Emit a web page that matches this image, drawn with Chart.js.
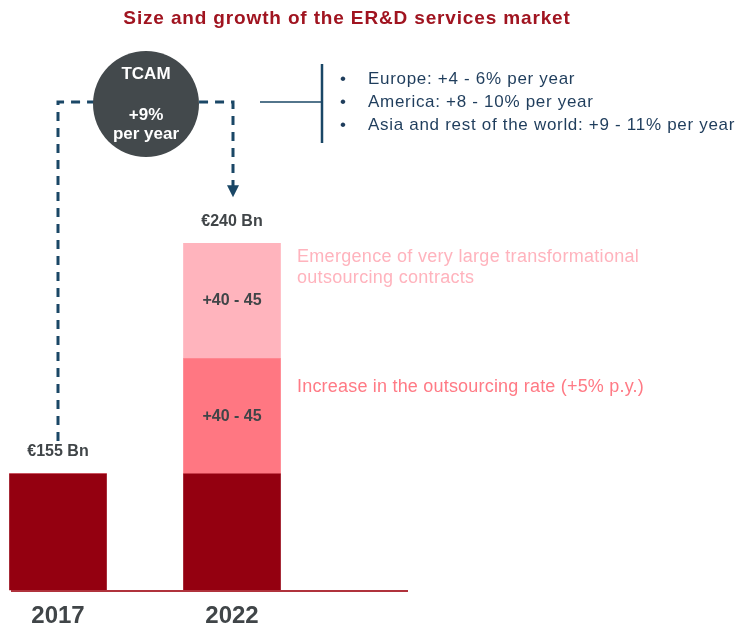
<!DOCTYPE html>
<html>
<head>
<meta charset="utf-8">
<script src="https://cdn.jsdelivr.net/npm/chart.js@4/dist/chart.umd.min.js"></script>
<style>
  html, body { margin: 0; padding: 0; background: #fff; }
  #wrap { width: 736px; height: 627px; position: relative; }
</style>
</head>
<body>
<div id="wrap"><canvas id="erd"></canvas></div>
<script>
// datos (alturas tal como están dibujadas, el gráfico es esquemático)
const years = ['2017', '2022'];
const baseMarket = [155, 155];
const outsourcingRate = [0, 154];
const largeContracts = [0, 154];
const totalLabels = ['€155 Bn', '€240 Bn'];
const growthLabels = ['', '+40 - 45'];
const regionGrowth = [
  'Europe: +4 - 6% per year',
  'America: +8 - 10% per year',
  'Asia and rest of the world: +9 - 11% per year',
];
const TITLE = 'Size and growth of the ER&D services market';
const Y_MAX = 788;

const FONT = '"Liberation Sans", Arial, sans-serif';
const NAVY = '#1a4766';
const GRIS = '#404548';

function topOfStack(chart, idx) {
  let top = Infinity;
  chart.data.datasets.forEach((ds, i) => {
    if (!ds.data[idx]) return;
    const el = chart.getDatasetMeta(i).data[idx];
    top = Math.min(top, el.y);
  });
  return top;
}

const pluginDecoracion = {
  id: 'pluginDecoracion',
  afterDraw(chart) {
    const { ctx, scales } = chart;
    const x0 = scales.x.getPixelForValue(0);
    const x1 = scales.x.getPixelForValue(1);
    const yBase = scales.y.getPixelForValue(0);
    const top0 = topOfStack(chart, 0);
    const top1 = topOfStack(chart, 1);

    ctx.save();

    // título
    ctx.font = `bold 19px ${FONT}`;
    ctx.letterSpacing = '0.85px';
    ctx.fillStyle = '#a01420';
    ctx.textAlign = 'center';
    ctx.textBaseline = 'middle';
    ctx.fillText(TITLE, 347, 19);
    ctx.letterSpacing = '0px';

    // eje base
    ctx.strokeStyle = '#b0323c';
    ctx.lineWidth = 2;
    ctx.beginPath();
    ctx.moveTo(x0 - 47, yBase + 1);
    ctx.lineTo(x1 + 176, yBase + 1);
    ctx.stroke();

    // etiquetas de años
    ctx.font = `bold 24px ${FONT}`;
    ctx.fillStyle = GRIS;
    years.forEach((y, i) => {
      ctx.fillText(y, scales.x.getPixelForValue(i), yBase + 26);
    });

    // totales
    ctx.font = `bold 16px ${FONT}`;
    ctx.fillText(totalLabels[0], x0, top0 - 22);
    ctx.fillText(totalLabels[1], x1, top1 - 22);

    // etiquetas de segmentos
    [1, 2].forEach((d) => {
      const el = chart.getDatasetMeta(d).data[1];
      ctx.fillText(growthLabels[1], el.x, (el.y + el.base) / 2);
    });

    // flechas discontinuas TCAM
    const yLine = 102;
    ctx.strokeStyle = NAVY;
    ctx.lineWidth = 3;
    ctx.setLineDash([9, 7]);
    ctx.beginPath();
    ctx.moveTo(x0, top0 - 33);
    ctx.lineTo(x0, yLine);
    ctx.lineTo(x1 + 1, yLine);
    ctx.lineTo(x1 + 1, top1 - 57);
    ctx.stroke();
    ctx.setLineDash([]);
    ctx.fillStyle = NAVY;
    ctx.beginPath();
    ctx.moveTo(x1 - 5, top1 - 58);
    ctx.lineTo(x1 + 7, top1 - 58);
    ctx.lineTo(x1 + 1, top1 - 46);
    ctx.closePath();
    ctx.fill();

    // círculo TCAM
    const cx = (x0 + x1) / 2 + 1;
    ctx.fillStyle = '#43494c';
    ctx.beginPath();
    ctx.arc(cx, 104, 53, 0, Math.PI * 2);
    ctx.fill();
    ctx.fillStyle = '#fff';
    ctx.font = `bold 17px ${FONT}`;
    ctx.fillText('TCAM', cx, 74);
    ctx.fillText('+9%', cx, 115);
    ctx.fillText('per year', cx, 134);

    // corchete y viñetas
    ctx.strokeStyle = NAVY;
    ctx.lineWidth = 1.5;
    ctx.beginPath();
    ctx.moveTo(260, yLine);
    ctx.lineTo(322, yLine);
    ctx.stroke();
    ctx.lineWidth = 2.5;
    ctx.beginPath();
    ctx.moveTo(322, 64);
    ctx.lineTo(322, 143);
    ctx.stroke();

    ctx.font = `17px ${FONT}`;
    ctx.fillStyle = '#1f3d5c';
    ctx.textAlign = 'left';
    regionGrowth.forEach((t, i) => {
      const y = 79 + i * 23;
      ctx.letterSpacing = '0px';
      ctx.fillText('•', 340, y);
      ctx.letterSpacing = '0.7px';
      ctx.fillText(t, 368, y);
    });

    // anotaciones de segmentos
    const elTop = chart.getDatasetMeta(2).data[1];
    const elMid = chart.getDatasetMeta(1).data[1];
    const xt = elTop.x + 65;
    ctx.font = `18px ${FONT}`;
    ctx.letterSpacing = '0.3px';
    ctx.fillStyle = '#ffb3bd';
    ctx.fillText('Emergence of very large transformational', xt, elTop.y + 14);
    ctx.fillText('outsourcing contracts', xt, elTop.y + 35);
    ctx.letterSpacing = '0.2px';
    ctx.fillStyle = '#ff7a85';
    ctx.fillText('Increase in the outsourcing rate (+5% p.y.)', xt, elMid.y + 28);

    ctx.restore();
  },
};

new Chart(document.getElementById('erd'), {
  type: 'bar',
  data: {
    labels: years,
    datasets: [
      { label: 'Market 2017', data: baseMarket, backgroundColor: '#940010', clip: false },
      { label: 'Outsourcing rate', data: outsourcingRate, backgroundColor: '#ff7782', clip: false },
      { label: 'Large contracts', data: largeContracts, backgroundColor: '#ffb4bd', clip: false },
    ],
  },
  options: {
    responsive: true,
    maintainAspectRatio: false,
    animation: false,
    layout: { padding: { top: 0, right: 504, bottom: 37, left: 58 } },
    datasets: { bar: { barThickness: 97 } },
    scales: {
      x: { stacked: true, offset: false, display: false },
      y: { stacked: true, min: 0, max: Y_MAX, display: false },
    },
    plugins: {
      legend: { display: false },
      tooltip: { enabled: false },
    },
  },
  plugins: [pluginDecoracion],
});
</script>
</body>
</html>
